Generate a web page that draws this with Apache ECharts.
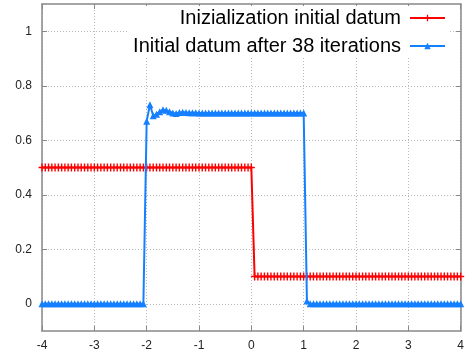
<!DOCTYPE html>
<html lang="en">
    <head>
        <meta charset="UTF-8" />
        <title>Initial datum</title>
        <script src="https://cdn.jsdelivr.net/npm/echarts@6.0.0/dist/echarts.min.js"></script>
        <style>
            body,
            html {
                margin: 0;
                padding: 0;
                width: 100%;
                height: 100%;
                overflow: hidden;
                background-color: #fff;
            }
            #main {
                width: 467px;
                height: 358px;
            }
        </style>
    </head>
    <body>
        <div id="main"></div>
        <script>
            // sample points (spacing 1/16)
            const xs = [
                -4, -3.9375, -3.875, -3.8125, -3.75, -3.6875, -3.625, -3.5625,
                -3.5, -3.4375, -3.375, -3.3125, -3.25, -3.1875, -3.125, -3.0625,
                -3, -2.9375, -2.875, -2.8125, -2.75, -2.6875, -2.625, -2.5625,
                -2.5, -2.4375, -2.375, -2.3125, -2.25, -2.1875, -2.125, -2.0625,
                -2, -1.9375, -1.875, -1.8125, -1.75, -1.6875, -1.625, -1.5625,
                -1.5, -1.4375, -1.375, -1.3125, -1.25, -1.1875, -1.125, -1.0625,
                -1, -0.9375, -0.875, -0.8125, -0.75, -0.6875, -0.625, -0.5625,
                -0.5, -0.4375, -0.375, -0.3125, -0.25, -0.1875, -0.125, -0.0625,
                0, 0.0625, 0.125, 0.1875, 0.25, 0.3125, 0.375, 0.4375,
                0.5, 0.5625, 0.625, 0.6875, 0.75, 0.8125, 0.875, 0.9375,
                1, 1.0625, 1.125, 1.1875, 1.25, 1.3125, 1.375, 1.4375,
                1.5, 1.5625, 1.625, 1.6875, 1.75, 1.8125, 1.875, 1.9375,
                2, 2.0625, 2.125, 2.1875, 2.25, 2.3125, 2.375, 2.4375,
                2.5, 2.5625, 2.625, 2.6875, 2.75, 2.8125, 2.875, 2.9375,
                3, 3.0625, 3.125, 3.1875, 3.25, 3.3125, 3.375, 3.4375,
                3.5, 3.5625, 3.625, 3.6875, 3.75, 3.8125, 3.875, 3.9375,
                4,
            ]

            const initialDatum = [
                0.5, 0.5, 0.5, 0.5, 0.5, 0.5, 0.5, 0.5, 0.5, 0.5, 0.5, 0.5, 0.5, 0.5, 0.5, 0.5,
                0.5, 0.5, 0.5, 0.5, 0.5, 0.5, 0.5, 0.5, 0.5, 0.5, 0.5, 0.5, 0.5, 0.5, 0.5, 0.5,
                0.5, 0.5, 0.5, 0.5, 0.5, 0.5, 0.5, 0.5, 0.5, 0.5, 0.5, 0.5, 0.5, 0.5, 0.5, 0.5,
                0.5, 0.5, 0.5, 0.5, 0.5, 0.5, 0.5, 0.5, 0.5, 0.5, 0.5, 0.5, 0.5, 0.5, 0.5, 0.5,
                0.5, 0.1, 0.1, 0.1, 0.1, 0.1, 0.1, 0.1, 0.1, 0.1, 0.1, 0.1, 0.1, 0.1, 0.1, 0.1,
                0.1, 0.1, 0.1, 0.1, 0.1, 0.1, 0.1, 0.1, 0.1, 0.1, 0.1, 0.1, 0.1, 0.1, 0.1, 0.1,
                0.1, 0.1, 0.1, 0.1, 0.1, 0.1, 0.1, 0.1, 0.1, 0.1, 0.1, 0.1, 0.1, 0.1, 0.1, 0.1,
                0.1, 0.1, 0.1, 0.1, 0.1, 0.1, 0.1, 0.1, 0.1, 0.1, 0.1, 0.1, 0.1, 0.1, 0.1, 0.1,
                0.1,
            ]

            const afterIterations = [
                0, 0, 0, 0, 0, 0, 0, 0, 0, 0, 0, 0, 0, 0, 0, 0,
                0, 0, 0, 0, 0, 0, 0, 0, 0, 0, 0, 0, 0, 0, 0, 0,
                0.67, 0.73, 0.69, 0.695, 0.705, 0.712, 0.71, 0.705, 0.7, 0.698, 0.702, 0.703, 0.702, 0.701, 0.701, 0.701,
                0.7, 0.7, 0.7, 0.7, 0.7, 0.7, 0.7, 0.7, 0.7, 0.7, 0.7, 0.7, 0.7, 0.7, 0.7, 0.7,
                0.7, 0.7, 0.7, 0.7, 0.7, 0.7, 0.7, 0.7, 0.7, 0.7, 0.7, 0.7, 0.7, 0.7, 0.7, 0.7,
                0.7, 0.01, 0, 0, 0, 0, 0, 0, 0, 0, 0, 0, 0, 0, 0, 0,
                0, 0, 0, 0, 0, 0, 0, 0, 0, 0, 0, 0, 0, 0, 0, 0,
                0, 0, 0, 0, 0, 0, 0, 0, 0, 0, 0, 0, 0, 0, 0, 0,
                0,
            ]

            const yTicks = [0, 0.2, 0.4, 0.6, 0.8, 1]
            const seriesNames = ["Inizialization initial datum", "Initial datum after 38 iterations"]

            const pairs = (ys) => xs.map((x, i) => [x, ys[i]])
            const plusSymbol = "path://M4,0H6V4H10V6H6V10H4V6H0V4H4Z"
            const font = "Liberation Sans, Arial, sans-serif"
            const border = { show: true, onZero: false, lineStyle: { color: "#888", width: 1.5 } }
            const tick = { inside: true, length: 5, lineStyle: { color: "#888" } }
            const grid = { show: true, lineStyle: { color: "#b8b8b8", type: [1, 2], width: 1 } }

            const chart = echarts.init(document.getElementById("main"), null, { renderer: "canvas" })
            chart.setOption({
                animation: false,
                backgroundColor: "#fff",
                grid: { left: 42, right: 1.5, top: 4, bottom: 27 },
                legend: {
                    orient: "vertical",
                    right: 17,
                    top: 6,
                    align: "right",
                    itemWidth: 35,
                    itemHeight: 8,
                    itemGap: 8,
                    padding: [2, 4],
                    backgroundColor: "#fff",
                    textStyle: { fontFamily: font, fontSize: 20, color: "#000", padding: [0, 4, 0, 0] },
                    data: seriesNames,
                },
                xAxis: [
                    {
                        type: "value",
                        min: -4,
                        max: 4,
                        interval: 1,
                        axisLine: border,
                        axisTick: tick,
                        axisLabel: { fontFamily: font, fontSize: 12, color: "#222", margin: 9 },
                        splitLine: grid,
                    },
                    {
                        type: "value",
                        position: "top",
                        min: -4,
                        max: 4,
                        interval: 1,
                        axisLine: border,
                        axisTick: tick,
                        axisLabel: { show: false },
                        splitLine: { show: false },
                    },
                ],
                yAxis: [
                    {
                        type: "value",
                        min: -0.1,
                        max: 1.1,
                        axisLine: border,
                        axisTick: { ...tick, customValues: yTicks },
                        axisLabel: { fontFamily: font, fontSize: 12, color: "#222", margin: 10, customValues: yTicks },
                        splitLine: grid,
                    },
                    {
                        type: "value",
                        position: "right",
                        min: -0.1,
                        max: 1.1,
                        axisLine: border,
                        axisTick: { ...tick, customValues: yTicks },
                        axisLabel: { show: false, customValues: yTicks },
                        splitLine: { show: false },
                    },
                ],
                series: [
                    {
                        name: seriesNames[0],
                        type: "line",
                        data: pairs(initialDatum),
                        symbol: plusSymbol,
                        symbolSize: [7, 8],
                        color: "#ff0000",
                        lineStyle: { color: "#ff0000", width: 2 },
                        itemStyle: { color: "#ff0000" },
                        z: 3,
                    },
                    {
                        name: seriesNames[1],
                        type: "line",
                        data: pairs(afterIterations),
                        symbol: "triangle",
                        symbolSize: 7,
                        color: "#1580ff",
                        lineStyle: { color: "#1580ff", width: 2 },
                        itemStyle: { color: "#1580ff" },
                        z: 4,
                    },
                ],
            })
        </script>
    </body>
</html>
